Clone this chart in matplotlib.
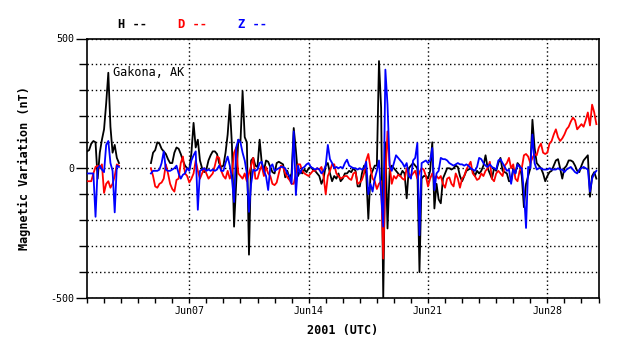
import numpy as np
import pandas as pd
import matplotlib
matplotlib.use("Agg")
import matplotlib.pyplot as plt
import matplotlib.dates as mdates
from matplotlib.ticker import MultipleLocator, FixedLocator, FixedFormatter

nan = np.nan

# 3-hourly samples starting 2001-06-01 00:00 (8 per day, 30 days)
start = "2001-06-01"
end = "2001-07-01"
station = "Gakona, AK"
series_names = ["H", "D", "Z"]
series_colors = ["black", "red", "blue"]
y_tick_values = [-500, 0, 500]
y_tick_labels = ["-500", "0", "500"]

H = [
    65, 70, 95, 105, 100, -40, 60, 110,
    150, 250, 368, 160, 60, 90, 40, 20,
    nan, nan, nan, nan, nan, nan, nan, nan,
    nan, nan, nan, nan, nan, nan, 20, 60,
    70, 100, 95, 75, 65, 55, 35, 20,
    20, 60, 80, 75, 55, 30, 10, 0,
    -5, 60, 175, 80, 110, 30, 0, -15,
    -5, 30, 50, 65, 65, 55, 20, 5,
    10, 60, 130, 245, 90, -225, -60, 110,
    100, 297, 120, 100, -333, 30, 40, 10,
    5, 110, 20, -10, 30, 25, 5, -15,
    -20, 20, 25, 20, 15, -35, -10, -40,
    -20, 155, 70, -30, -10, -20, -5, -15,
    0, 5, -5, -10, -20, -30, -60, -40,
    10, 20, -20, -50, -30, -40, -20, -50,
    -40, -20, -20, -10, -15, 0, -10, -70,
    -70, -20, 10, -20, -195, -30, -10, 10,
    10, 413, 233, -500, 100, -232, -10, 10,
    0, -10, -20, -30, -10, -20, -116, 0,
    10, 20, 10, 0, -400, -40, -30, -30,
    -40, -10, 100, -155, -60, -120, -135, -40,
    -20, 0, 0, -5, 0, 10, 5, -30,
    -50, -30, -10, -5, 0, -10, -30, -10,
    -20, -10, 10, 50, 0, -20, -40, 0,
    -10, 20, 40, -10, -15, -20, -50, -50,
    0, -20, 20, 10, -30, -150, -60, -30,
    0, 187, 80, 20, 10, 0, -20, -50,
    -30, -15, -10, 10, 30, 35, 0, -40,
    0, 10, 30, 30, 25, 10, -10, -15,
    10, 30, 40, 50, -110, -30, -15, -40,
]

D = [
    -50, -50, -50, -20, 5, 10, 0, 15,
    -95, -60, -50, -75, -60, -30, 15, 10,
    nan, nan, nan, nan, nan, nan, nan, nan,
    nan, nan, nan, nan, nan, nan, 0, -30,
    -70, -75, -60, -55, -40, 15, -20, -60,
    -80, -90, -45, -40, 20, 45, -20, -30,
    -55, -40, -20, 30, -10, -40, -20, 0,
    -20, -40, -30, -20, 10, 45, 40, -10,
    -30, -40, -10, -40, -20, 60, 80, -20,
    -30, -40, -20, -50, -20, 10, 40, -40,
    -40, -10, 10, -30, 5, -20, -30, -60,
    -65, -55, -20, 10, 5, -20, -35, -45,
    -60, -60, -20, 15, 15, -10, -20, -25,
    -30, -20, -10, -10, 0, -5, 5, -30,
    -100, -30, -10, 15, 15, -20, -30, -40,
    -35, -30, -30, -40, -45, -20, -15, -60,
    -55, -45, -20, 30, 55, 0, -40, -50,
    -80, -60, -50, -348, -40, 142, 10, -60,
    -30, -40, -25, -30, -40, -45, 0, -20,
    -30, -20, -10, -40, -15, 0, -5, -30,
    -70, -40, -20, -40, -30, -40, -30, -60,
    -75, -40, -35, -60, -70, -20, -40, -75,
    -40, -30, -5, 10, 25, -20, -30, -45,
    -40, -20, -30, -10, 0, 25, -40, -50,
    -20, -10, -20, -30, 10, 20, 40, 0,
    15, -40, -50, -10, 0, 50, 55, 45,
    20, 40, 55, 50, 80, 95, 60, 55,
    60, 95, 105, 130, 150, 120, 105, 115,
    130, 150, 160, 180, 195, 185, 150, 160,
    170, 160, 185, 215, 165, 245, 215, 170,
]

Z = [
    -20, -20, -20, -20, -187, 0, 10, -5,
    -15, 90, 105, 20, -10, -170, 10, 5,
    nan, nan, nan, nan, nan, nan, nan, nan,
    nan, nan, nan, nan, nan, nan, -20, -10,
    -10, -10, -5, 20, 65, -5, -10, -10,
    -5, 0, 10, -20, -40, -25, -20, 0,
    -10, 30, 50, 65, -160, -10, -5, 0,
    -10, -5, -10, -5, -10, -5, 10, -10,
    -10, 20, 45, 10, -40, -130, 80, 110,
    100, 60, 30, -20, -168, -60, -5, -10,
    -5, 20, 25, -10, -30, -84, 5, 15,
    -10, -5, 0, 5, 5, 0, -20, -30,
    -60, 142, -103, 10, -20, 0, 5, 15,
    20, 5, 0, -5, 0, -5, -20, -10,
    10, 90, 35, 20, 0, 5, 0, 5,
    0, 20, 33, 10, 5, 0, 0, -5,
    0, -5, 0, 25, -100, -60, -90, -40,
    -10, 30, -100, -225, 380, 245, 10, -10,
    20, 50, 40, 30, 20, 5, 20, -30,
    -40, 30, 40, 97, -258, 20, 25, 30,
    20, 30, 78, -84, -20, -10, 40, 35,
    35, 30, 20, 15, 10, 15, 20, 15,
    15, 10, 15, 10, 0, -5, -10, 5,
    40, 35, 20, 10, 5, 15, 5, 0,
    -5, 30, 35, 20, 5, -10, -5, -60,
    -5, -20, 15, 5, 0, -90, -230, 5,
    0, 130, 20, -5, 0, 0, -5, -5,
    -5, 0, -5, -5, -5, 0, -5, -5,
    -15, -5, 0, 5, -5, -15, -20, -5,
    0, 5, 0, -5, -90, -40, -20, -10,
]

times = pd.date_range(start, periods=len(H), freq="3h")

MONO = "DejaVu Sans Mono"
W, Hpx = 638, 359
fig = plt.figure(figsize=(W / 100, Hpx / 100), dpi=100)
ax = fig.add_axes([87 / W, 1 - 298 / Hpx, (598.5 - 87) / W, (298 - 38.5) / Hpx])

for vals, col in zip([H, D, Z], series_colors):
    ax.plot(times, vals, color=col, lw=1.3, zorder=3)

ax.set_xlim(pd.Timestamp(start), pd.Timestamp(end))
ax.set_ylim(-500, 500)

ax.xaxis.set_major_locator(mdates.DayLocator(bymonthday=[7, 14, 21, 28]))
ax.xaxis.set_minor_locator(mdates.DayLocator())
ax.xaxis.set_major_formatter(mdates.DateFormatter("%b%d"))

ax.yaxis.set_major_locator(FixedLocator(y_tick_values))
ax.yaxis.set_major_formatter(FixedFormatter(y_tick_labels))
ax.yaxis.set_minor_locator(MultipleLocator(100))

ax.grid(which="major", axis="x", color="black", lw=1.0, linestyle=(0, (1, 2)), zorder=1)
ax.grid(which="both", axis="y", color="black", lw=1.0, linestyle=(0, (1, 2)), zorder=1)

ax.tick_params(axis="y", which="major", direction="out", length=7.9, width=1, pad=1.5,
               labelsize=7.2)
ax.tick_params(axis="y", which="minor", direction="out", length=5.8, width=1)
ax.tick_params(axis="x", which="both", direction="out", length=3.6, width=1, pad=2.5,
               labelsize=7.2)
for lab in ax.get_xticklabels() + ax.get_yticklabels():
    lab.set_fontfamily(MONO)

for s in ax.spines.values():
    s.set_linewidth(1.2)
    s.set_color("black")

ax.text(0.050, 0.870, station, transform=ax.transAxes, family=MONO, fontsize=8.6,
        ha="left", va="center", zorder=5)

fig.text(0.499 * (598.5 - 87) / W + 87 / W, 1 - 330.5 / Hpx, "2001 (UTC)", family=MONO,
         fontweight="bold", fontsize=8.5, ha="center", va="center")
fig.text(24.7 / W, 1 - 168 / Hpx, "Magnetic Variation (nT)", family=MONO,
         fontweight="bold", fontsize=8.5, ha="center", va="center", rotation=90)

legend_x = [118, 178, 238]
for name, col, lx in zip(series_names, series_colors, legend_x):
    fig.text(lx / W, 1 - 24.5 / Hpx, f"{name} --", family=MONO, fontweight="bold",
             fontsize=8.7, color=col, ha="left", va="center")

fig.savefig("out.png", dpi=100)
